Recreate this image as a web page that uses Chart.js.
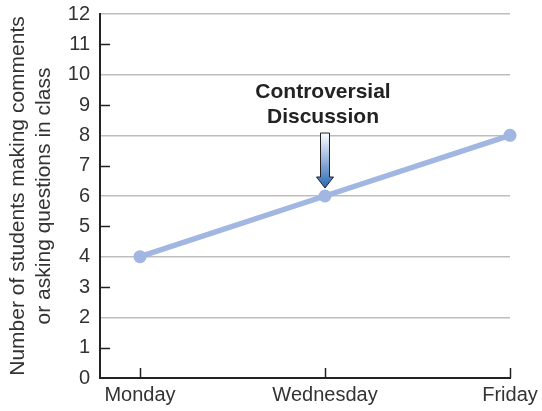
<!DOCTYPE html>
<html>
<head>
<meta charset="utf-8">
<script src="https://cdn.jsdelivr.net/npm/chart.js@4"></script>
<style>
  html, body { margin: 0; padding: 0; background: #fff; }
  #wrap { width: 542px; height: 411px; }
</style>
</head>
<body>
<div id="wrap"><canvas id="myChart"></canvas></div>
<script>
// data
var days = ['Monday', 'Wednesday', 'Friday'];
var students = [4, 6, 8];
var yTicks = [0, 1, 2, 3, 4, 5, 6, 7, 8, 9, 10, 11, 12];
var yTitle = ['Number of students making comments', 'or asking questions in class'];
var noteLines = ['Controversial', 'Discussion'];
var noteDay = 1; // index in days

var lineColor = '#a2b6e2';
var textColor = '#333333';
var fontFamily = '"Liberation Sans", Arial, sans-serif';

var points = [];
for (var i = 0; i < days.length; i++) {
    points.push({ x: i, y: students[i] });
}

// small black ticks drawn inward from the axes, plus the arrow note
var innerTicks = {
    id: 'innerTicks',
    afterDatasetsDraw: function(chart) {
        var c = chart.ctx;
        var xs = chart.scales.x, ys = chart.scales.y;
        var area = chart.chartArea;
        c.save();
        c.strokeStyle = '#222';
        c.lineWidth = 1.5;
        // odd y values
        for (var k = 0; k < yTicks.length; k++) {
            if (yTicks[k] % 2 === 1) {
                var py = Math.round(ys.getPixelForValue(yTicks[k])) + 0.5;
                c.beginPath();
                c.moveTo(area.left, py);
                c.lineTo(area.left + 10, py);
                c.stroke();
            }
        }
        // x day ticks
        for (var d = 0; d < days.length; d++) {
            var px = Math.round(xs.getPixelForValue(d)) + 0.5;
            c.beginPath();
            c.moveTo(px, area.bottom);
            c.lineTo(px, area.bottom - 10);
            c.stroke();
        }

        // note with arrow
        var ax = xs.getPixelForValue(noteDay);
        var ay = ys.getPixelForValue(students[noteDay]);
        var tip = ay - 8;
        var headTop = tip - 11;
        var shaftTop = tip - 55;
        var grad = c.createLinearGradient(0, shaftTop, 0, tip);
        grad.addColorStop(0, '#ffffff');
        grad.addColorStop(1, '#2a66b8');
        c.beginPath();
        c.moveTo(ax - 4.5, shaftTop);
        c.lineTo(ax + 4.5, shaftTop);
        c.lineTo(ax + 4.5, headTop);
        c.lineTo(ax + 8.5, headTop);
        c.lineTo(ax, tip);
        c.lineTo(ax - 8.5, headTop);
        c.lineTo(ax - 4.5, headTop);
        c.closePath();
        c.fillStyle = grad;
        c.fill();
        c.strokeStyle = '#222';
        c.lineWidth = 1;
        c.stroke();

        c.fillStyle = '#222';
        c.font = 'bold 21px ' + fontFamily;
        c.textAlign = 'center';
        c.textBaseline = 'middle';
        c.fillText(noteLines[0], ax - 2, ay - 104);
        c.fillText(noteLines[1], ax - 2, ay - 79);
        c.restore();
    }
};

var ctx = document.getElementById('myChart').getContext('2d');
var myLineChart = new Chart(ctx, {
    type: 'line',
    data: {
        datasets: [{
            data: points,
            borderColor: lineColor,
            backgroundColor: lineColor,
            borderWidth: 5.5,
            pointRadius: 6.5,
            pointHoverRadius: 6.5,
            pointBorderWidth: 0,
            tension: 0,
            clip: false
        }]
    },
    options: {
        responsive: true,
        maintainAspectRatio: false,
        animation: false,
        layout: { padding: { top: 14, right: 32, left: 0, bottom: 0 } },
        plugins: { legend: { display: false }, tooltip: { enabled: false } },
        scales: {
            x: {
                type: 'linear',
                min: -40 / 185,
                max: days.length - 1,
                afterBuildTicks: function(scale) {
                    scale.ticks = days.map(function(d, i) { return { value: i }; });
                },
                afterFit: function(scale) {
                    scale.height = 33;
                    scale.paddingLeft = 0;
                    scale.paddingRight = 0;
                },
                ticks: {
                    color: textColor,
                    font: { family: fontFamily, size: 20 },
                    padding: 5,
                    maxRotation: 0,
                    callback: function(v) { return days[v]; }
                },
                grid: { display: true, drawOnChartArea: false, drawTicks: false },
                border: { display: true, color: '#222', width: 2 }
            },
            y: {
                min: 0,
                max: 12,
                afterBuildTicks: function(scale) {
                    scale.ticks = yTicks.map(function(v) { return { value: v }; });
                },
                afterFit: function(scale) {
                    scale.width = 100;
                    scale.paddingTop = 0;
                    scale.paddingBottom = 0;
                },
                ticks: {
                    color: textColor,
                    font: { family: fontFamily, size: 20 },
                    padding: 10
                },
                grid: {
                    drawTicks: false,
                    lineWidth: 1.5,
                    color: function(c) {
                        var v = c.tick ? c.tick.value : 0;
                        return (v > 0 && v % 2 === 0) ? '#bdbdbd' : 'rgba(0,0,0,0)';
                    }
                },
                border: { display: true, color: '#222', width: 2 },
                title: {
                    display: true,
                    text: yTitle,
                    color: textColor,
                    font: { family: fontFamily, size: 21, lineHeight: 1.2 },
                    padding: { top: 6, bottom: 0 }
                }
            }
        }
    },
    plugins: [innerTicks]
});
</script>
</body>
</html>
